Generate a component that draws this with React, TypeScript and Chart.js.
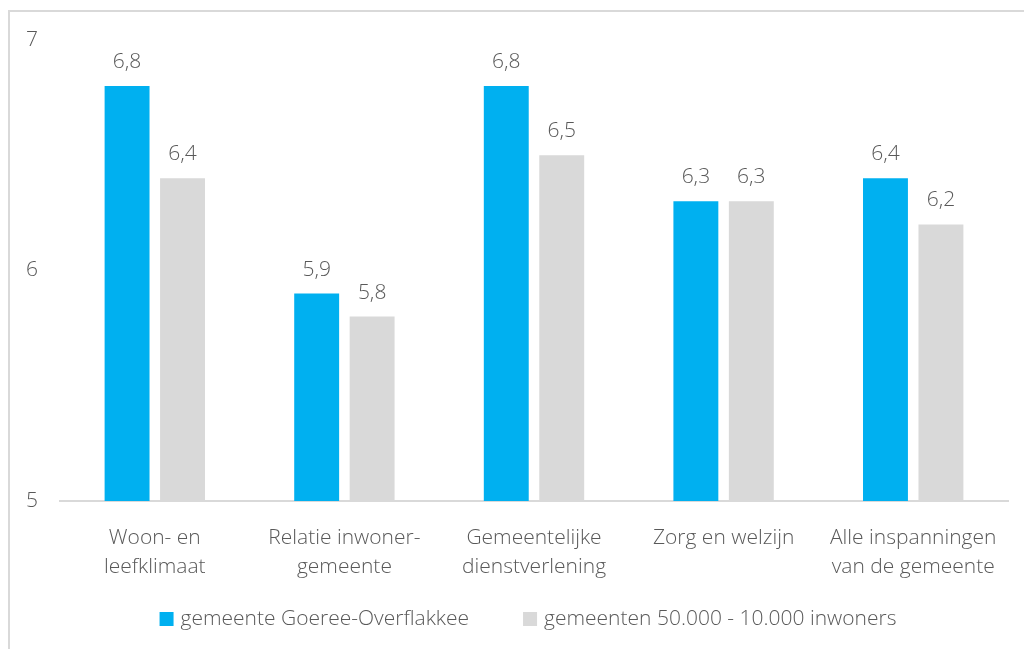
import { useEffect, useRef } from 'react';
import { Chart, ChartConfiguration, Plugin, registerables } from 'chart.js';

Chart.register(...registerables);

// Chart data
const categories: (string | string[])[] = [
    ['Woon- en', 'leefklimaat'],
    ['Relatie inwoner-', 'gemeente'],
    ['Gemeentelijke', 'dienstverlening'],
    'Zorg en welzijn',
    ['Alle inspanningen', 'van de gemeente'],
];
const goereeValues: number[] = [6.8, 5.9, 6.8, 6.3, 6.4];
const gemeentenValues: number[] = [6.4, 5.8, 6.5, 6.3, 6.2];
const seriesLabels: string[] = ['gemeente Goeree-Overflakkee', 'gemeenten 50.000 - 10.000 inwoners'];
const seriesColors: string[] = ['#00b0f0', '#d9d9d9'];
const yTicks: number[] = [5, 6, 7];

const FONT = "'Open Sans', sans-serif";
const TEXT = '#595959';

// Draws the value above every bar, with a comma as decimal sign
const valueLabels: Plugin = {
    id: 'valueLabels',
    afterDatasetsDraw(chart) {
        const ctx = chart.ctx;
        ctx.save();
        ctx.font = `300 21px ${FONT}`;
        ctx.fillStyle = TEXT;
        ctx.textAlign = 'center';
        ctx.textBaseline = 'middle';
        chart.data.datasets.forEach((ds, i) => {
            const meta = chart.getDatasetMeta(i);
            meta.data.forEach((bar: any, j) => {
                const v = ds.data[j] as number;
                ctx.fillText(v.toFixed(1).replace('.', ','), bar.x, bar.y - 24);
            });
        });
        ctx.restore();
    },
};

// Legend drawn by hand so the spacing between items can be wider than the built-in one
const wideLegend: Plugin = {
    id: 'wideLegend',
    afterDraw(chart) {
        const ctx = chart.ctx;
        const box = 14;
        const gap = 7;
        const itemGap = 54;
        ctx.save();
        ctx.font = `300 21px ${FONT}`;
        const widths = chart.data.datasets.map(ds => ctx.measureText(ds.label as string).width);
        const total = widths.reduce((a, w) => a + box + gap + w, 0) + itemGap * (widths.length - 1);
        let x = chart.width / 2 + 16 - total / 2;
        const y = 619;
        ctx.textBaseline = 'middle';
        ctx.textAlign = 'left';
        chart.data.datasets.forEach((ds, i) => {
            ctx.fillStyle = ds.backgroundColor as string;
            ctx.fillRect(x, y - box / 2, box, box);
            ctx.fillStyle = TEXT;
            ctx.fillText(ds.label as string, x + box + gap, y);
            x += box + gap + widths[i] + itemGap;
        });
        ctx.restore();
    },
};

export default function App() {
    const canvasRef = useRef<HTMLCanvasElement | null>(null);
    const chartRef = useRef<Chart | null>(null);

    useEffect(() => {
        if (!canvasRef.current) return;

        const config: ChartConfiguration = {
            type: 'bar',
            data: {
                labels: categories,
                datasets: [
                    {
                        label: seriesLabels[0],
                        data: goereeValues,
                        backgroundColor: seriesColors[0],
                        categoryPercentage: 0.585,
                        barPercentage: 0.81,
                    },
                    {
                        label: seriesLabels[1],
                        data: gemeentenValues,
                        backgroundColor: seriesColors[1],
                        categoryPercentage: 0.585,
                        barPercentage: 0.81,
                    },
                ],
            },
            options: {
                responsive: false,
                animation: false,
                layout: { padding: { top: 40, left: 26, right: 16, bottom: 51 } },
                scales: {
                    x: {
                        grid: { display: false },
                        border: { color: '#d9d9d9', width: 2 },
                        ticks: { color: TEXT, font: { family: FONT, size: 21, weight: 300, lineHeight: 1.4 }, padding: 14, maxRotation: 0 },
                        afterFit: (s: any) => { s.height = 97; },
                    },
                    y: {
                        min: 5,
                        max: 7,
                        grid: { display: false },
                        border: { display: false },
                        afterBuildTicks: (s: any) => { s.ticks = yTicks.map(v => ({ value: v })); },
                        afterFit: (s: any) => { s.width = 34; },
                        ticks: { color: TEXT, font: { family: FONT, size: 21, weight: 300 }, crossAlign: 'far', padding: 0 },
                    },
                },
                plugins: {
                    legend: { display: false },
                    tooltip: { enabled: false },
                },
            },
            plugins: [valueLabels, wideLegend],
        };

        chartRef.current = new Chart(canvasRef.current, config);

        return () => {
            if (chartRef.current) {
                chartRef.current.destroy();
                chartRef.current = null;
            }
        };
    }, []);

    return (
        <div style={{ position: 'fixed', left: 0, top: 0, width: 1024, height: 649, background: '#fff', overflow: 'hidden' }}>
            <div style={{ position: 'absolute', left: 8, top: 10, width: 1040, height: 680, borderTop: '2px solid #d9d9d9', borderLeft: '2px solid #d9d9d9' }} />
            <canvas ref={canvasRef} width={1024} height={649} style={{ position: 'absolute', left: 0, top: 0 }} />
        </div>
    );
}
